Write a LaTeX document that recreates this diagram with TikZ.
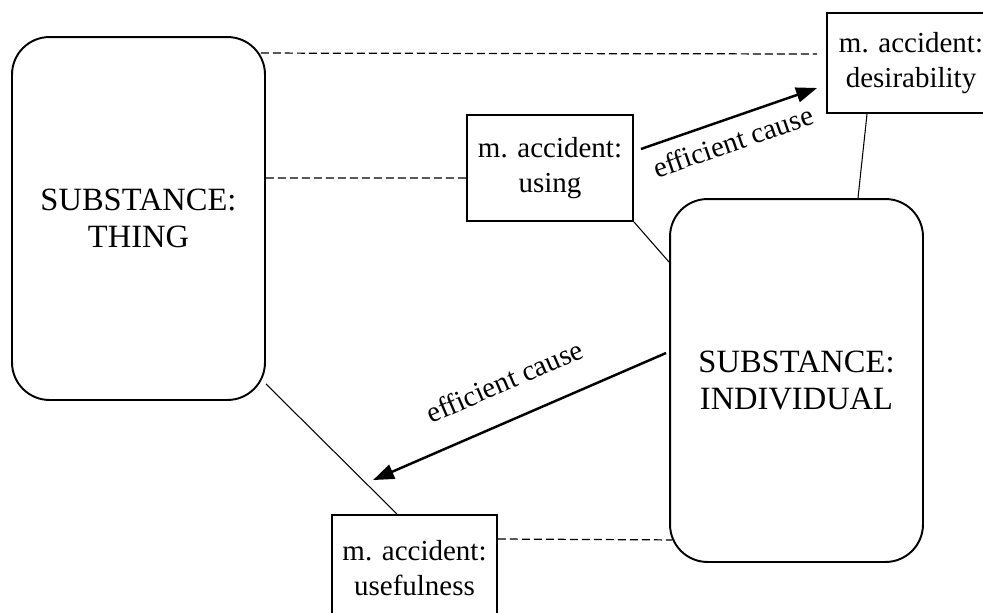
\documentclass[tikz,border=0pt]{standalone}
\usepackage{fontspec}
\setmainfont{Liberation Serif}
\usetikzlibrary{arrows.meta,positioning}

\begin{document}
\begin{tikzpicture}[x=0.02cm, y=-0.02cm, every node/.style={font=\fontsize{16.5}{19.5}\selectfont}, substance/.style={draw, line width=1.1pt, rounded corners=0.75cm, align=center, minimum width=5.06cm, minimum height=7.26cm, font=\fontsize{18.5}{21.5}\selectfont}, accident/.style={draw, line width=1.1pt, align=center, inner sep=0pt}, cause/.style={-{Triangle[length=0.42cm,width=0.3cm]}, line width=1.4pt}, link/.style={line width=0.6pt}, faint/.style={line width=0.7pt, dash pattern=on 0.16cm off 0.08cm}]
\clip (0,0) rectangle (983,612);
\node[substance] (thing) at (138.5,218.5) {SUBSTANCE:\\THING};
\node[substance] (individual) at (796.5,380.5) {SUBSTANCE:\\INDIVIDUAL};
\node[accident, minimum width=3.32cm, minimum height=2.12cm] (using) at (550,168) {m. accident:\\using};
\node[accident, minimum width=3.36cm, minimum height=2cm] (desirability) at (911,63) {m. accident:\\desirability};
\node[accident, minimum width=3.3cm, minimum height=2.12cm] (usefulness) at (414.5,568) {m. accident:\\usefulness};
\draw[faint] ([shift={(-0.1cm,-0.34cm)}]thing.north east) -- ([shift={(-0.18cm,0.18cm)}]desirability.west);
\draw[faint] ([yshift=0.81cm]thing.east) -- ([yshift=-0.2cm]using.west);
\draw[faint] ([yshift=0.58cm]usefulness.east) -- ([shift={(0.06cm,0.46cm)}]individual.south west);
\draw[link] (using.south east) -- ([yshift=-1.28cm]individual.north west);
\draw[link] ([xshift=-0.88cm]desirability.south) -- ([xshift=1.23cm]individual.north);
\draw[link] ([yshift=0.34cm]thing.south east) -- ([xshift=-0.35cm]usefulness.north);
\draw[cause] ([shift={(0.14cm,0.38cm)}]using.east) -- node[sloped, below=0.11cm, pos=0.48]{efficient cause} ([shift={(-0.18cm,-0.5cm)}]desirability.west);
\draw[cause] ([shift={(-0.06cm,0.55cm)}]individual.west) -- node[sloped, above=0.42cm, pos=0.5]{efficient cause} ([shift={(-0.83cm,0.68cm)}]usefulness.north);
\end{tikzpicture}
\end{document}
